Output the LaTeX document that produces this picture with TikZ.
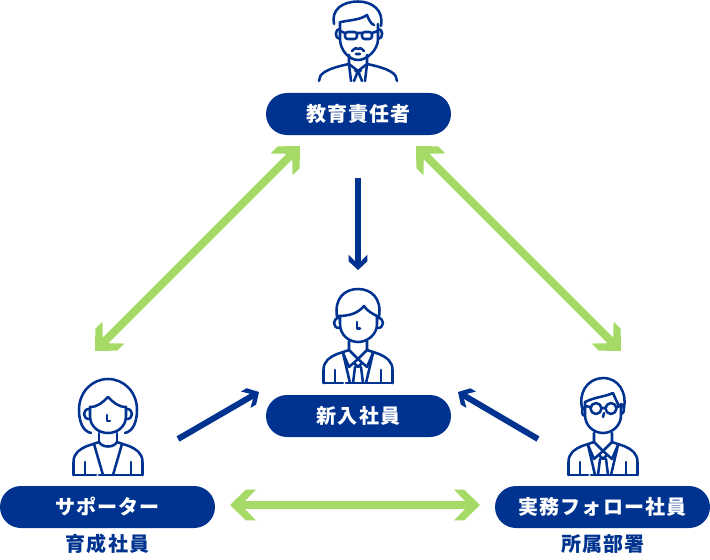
\documentclass[tikz,border=0pt]{standalone}
\usepackage{fontspec}
\newfontfamily\cjk[LetterSpace=6]{Noto Sans CJK JP}
\usetikzlibrary{arrows.meta}
\definecolor{navy}{HTML}{00338F}
\definecolor{leaf}{HTML}{A5DA67}
\pgfdeclarearrow{
  name=GChev,
  setup code={\pgfarrowssettipend{0pt}\pgfarrowssetlineend{-8pt}\pgfarrowssetvisualbackend{-19.5pt}\pgfarrowssetbackend{-19.5pt}},
  drawing code={
    \pgfsetfillcolor{leaf}
    \pgfpathmoveto{\pgfqpoint{0pt}{0pt}}
    \pgfpathlineto{\pgfpoint{-12pt}{11.6pt}}
    \pgfpathlineto{\pgfpoint{-19.5pt}{11.6pt}}
    \pgfpathlineto{\pgfpoint{-11.25pt}{3pt}}
    \pgfpathlineto{\pgfpoint{-11.25pt}{-3pt}}
    \pgfpathlineto{\pgfpoint{-19.5pt}{-11.6pt}}
    \pgfpathlineto{\pgfpoint{-12pt}{-11.6pt}}
    \pgfpathclose\pgfusepathqfill},
  defaults={}
}
\pgfdeclarearrow{
  name=NChev,
  setup code={\pgfarrowssettipend{0pt}\pgfarrowssetlineend{-5pt}\pgfarrowssetvisualbackend{-11.5pt}\pgfarrowssetbackend{-11.5pt}},
  drawing code={
    \pgfsetfillcolor{navy}
    \pgfpathmoveto{\pgfqpoint{0pt}{0pt}}
    \pgfpathlineto{\pgfpoint{-6.6pt}{7.1pt}}
    \pgfpathlineto{\pgfpoint{-11.5pt}{7.1pt}}
    \pgfpathlineto{\pgfpoint{-6.5pt}{2.2pt}}
    \pgfpathlineto{\pgfpoint{-6.5pt}{-2.2pt}}
    \pgfpathlineto{\pgfpoint{-11.5pt}{-7.1pt}}
    \pgfpathlineto{\pgfpoint{-6.6pt}{-7.1pt}}
    \pgfpathclose\pgfusepathqfill},
  defaults={}
}
\tikzset{
  pill/.style={fill=navy,text=white,rounded corners=15.75pt,minimum height=31.5pt,inner sep=0pt,font=\cjk\bfseries\fontsize{15pt}{18pt}\selectfont,text height=12pt,text depth=1.5pt},
  sublabel/.style={text=navy,inner sep=0pt,font=\cjk\bfseries\fontsize{15pt}{18pt}\selectfont,text height=12pt,text depth=1.5pt},
  gline/.style={draw=leaf,line width=6pt,{GChev}-{GChev}},
  nline/.style={draw=navy,line width=4.5pt,-{NChev}},
  ic/.style={draw=navy,line width=1.9pt,line cap=round,line join=round,fill=none},
  pics/suitbody/.style={code={
    \draw[ic] (-34.5,0) -- (-34.5,-13) .. controls (-34.5,-22) and (-28,-26) .. (-21,-29) -- (-9,-33)
      (34.5,0) -- (34.5,-13) .. controls (34.5,-22) and (28,-26) .. (21,-29) -- (9,-33);
    \draw[ic] (-34.5,0) -- (-15,0) (-12,0) -- (34.5,0);
    \draw[ic] (-23,-13) -- (-23,0) (23,-13) -- (23,0);
    \draw[ic] (-9,-42) -- (-9,-33) -- (0,-24) -- (9,-33) -- (9,-42);
    \draw[ic] (-15,-30) -- (-8,0) (15,-30) -- (8,0);
    \draw[ic] (-15,-30) -- (-9,-16) -- (0,-24) -- (9,-16) -- (15,-30);
    \draw[ic] (-4,-20) -- (0,-16) -- (4,-20) (-3,-16) -- (-5,0) (3,-16) -- (5,0);
  }},
  pics/ladybody/.style={code={
    \draw[ic] (-34.5,0) -- (-34.5,-13) .. controls (-34.5,-22) and (-28,-26) .. (-21,-29) -- (-9,-33)
      (34.5,0) -- (34.5,-13) .. controls (34.5,-22) and (28,-26) .. (21,-29) -- (9,-33);
    \draw[ic] (-34.5,0) -- (-12,0) (-9,0) -- (34.5,0);
    \draw[ic] (-23,-13) -- (-23,0) (23,-13) -- (23,0);
    \draw[ic] (-9,-42) -- (-9,-33) (9,-42) -- (9,-33);
    \draw[ic] (-9,-33) .. controls (-6,-27) and (6,-27) .. (9,-33);
    \draw[ic] (-14,-31) -- (-5,0) (14,-31) -- (5,0);
  }},
}
\begin{document}
\begin{tikzpicture}[x=0.75pt,y=-0.75pt]
\useasboundingbox (0,0) rectangle (710,560);
% pills
\node[pill,minimum width=138.75pt] (boss) at (358.5,114) {教育責任者};
\node[pill,minimum width=138.75pt] (fresh) at (358.5,416) {新入社員};
\node[pill,minimum width=161.25pt] (sup) at (107.5,507) {サポーター};
\node[pill,minimum width=161.25pt] (field) at (602.5,507) {実務フォロー社員};
\node[sublabel] (supsub) at (107.5,544) {育成社員};
\node[sublabel] (fieldsub) at (603,544) {所属部署};
% connector ends
\coordinate (a1) at (95,351); \coordinate (a2) at (300,146);
\coordinate (b1) at (416,146); \coordinate (b2) at (621,351);
\coordinate (c1) at (230,505); \coordinate (c2) at (480,505);
\coordinate (d1) at (358,178); \coordinate (d2) at (358,270);
\coordinate (e1) at (178,439); \coordinate (e2) at (259,392);
\coordinate (f1) at (538,439); \coordinate (f2) at (458,392);
\draw[gline] (a1) -- (a2);
\draw[gline] (b1) -- (b2);
\draw[gline] (c1) -- (c2);
\draw[nline] (d1) -- (d2);
\draw[nline] (e1) -- (e2);
\draw[nline] (f1) -- (f2);
% new employee
\pic at (358,383) {suitbody};
\draw[ic] (337,317) .. controls (334,298) and (345,289) .. (358,289) .. controls (371,289) and (382,298) .. (379,317);
\draw[ic] (338,316) .. controls (350,316) and (358,313) .. (364,306) .. controls (367,311) and (373,314) .. (377,316);
\draw[ic] (340,316) -- (340,324) .. controls (340,335) and (349,342) .. (358,342) .. controls (367,342) and (377,335) .. (377,324) -- (377,316);
\draw[ic] (340,318) .. controls (332,317) and (332,329) .. (340,328) (377,318) .. controls (385,317) and (385,329) .. (377,328);
\draw[ic] (357,322) -- (357,328.5) -- (360,328.5);
% supporter (woman)
\pic at (108,475) {ladybody};
\draw[ic] (91,433) .. controls (82,431) and (79,420) .. (79,410) .. controls (79,392) and (92,379) .. (108,379) .. controls (124,379) and (137,392) .. (137,410) .. controls (137,420) and (134,431) .. (125,433);
\draw[ic] (90,407) .. controls (98,407) and (103,402) .. (108,397) .. controls (113,402) and (118,407) .. (126,407);
\draw[ic] (90,407) -- (90,416) .. controls (90,427) and (99,433) .. (108,433) .. controls (117,433) and (126,427) .. (126,416) -- (126,407);
\draw[ic] (90,409) .. controls (82,408) and (82,420) .. (90,419) (126,409) .. controls (134,408) and (134,420) .. (126,419);
\draw[ic] (107,415) -- (107,421) -- (110,421);
% field employee
\pic at (603,475) {suitbody};
\draw[ic] (582,408) .. controls (579,395) and (585,379) .. (603,378) .. controls (619,378) and (627,393) .. (624,408);
\draw[ic] (585,402) .. controls (595,397) and (604,397) .. (613,393) .. controls (615,398) and (617,402) .. (619,406);
\draw[ic] (585,402) -- (585,415) .. controls (585,426) and (594,433) .. (603,433) .. controls (612,433) and (621,426) .. (621,415) -- (621,404);
\draw[ic] (585,407) .. controls (581,408) and (581,416) .. (585,416) (621,404) .. controls (625,405) and (625,414) .. (621,414);
\draw[ic] (596,408.5) circle[radius=5.5] (611,408.5) circle[radius=5.5] (601.5,408) -- (605.5,408) (585,406) -- (590.5,407) (616.5,407) -- (621,406);
\draw[ic] (604,413) -- (603,417);
% boss
\draw[ic] (319,81) .. controls (319,74) and (325,69) .. (349,64)  (397,81) .. controls (397,74) and (391,69) .. (367,64);
\draw[ic] (349,55) -- (349,64) -- (358,71) -- (367,64) -- (367,55);
\draw[ic] (349,64) -- (351,81) (367,64) -- (365,81) (358,71) -- (354,81) (358,71) -- (362,81) (355,70) -- (358,73) -- (361,70);
\draw[ic] (334,24) .. controls (331,10) and (342,1.5) .. (358,1.5) .. controls (372,1.5) and (384,10) .. (381,26);
\draw[ic] (341,22) .. controls (350,20) and (360,20) .. (367,15) .. controls (369,20) and (371,24) .. (374,25);
\draw[ic] (340,22) -- (340,39) .. controls (340,50) and (349,60) .. (358,60) .. controls (367,60) and (378,50) .. (378,39) -- (378,24);
\draw[ic] (340,29) .. controls (335,28) and (334,39) .. (340,39) (378,29) .. controls (383,28) and (384,39) .. (378,39);
\draw[ic,rounded corners=2pt] (345,32) rectangle (357,39) (362,32) rectangle (372,39);
\draw[ic] (357,33) -- (362,33) (340,31) -- (345,33) (372,33) -- (378,31);
\draw[ic] (352,51) .. controls (355,48) and (357,47) .. (358,49) .. controls (359,47) and (361,48) .. (364,51) (356,54) -- (360,54);
\end{tikzpicture}
\end{document}
